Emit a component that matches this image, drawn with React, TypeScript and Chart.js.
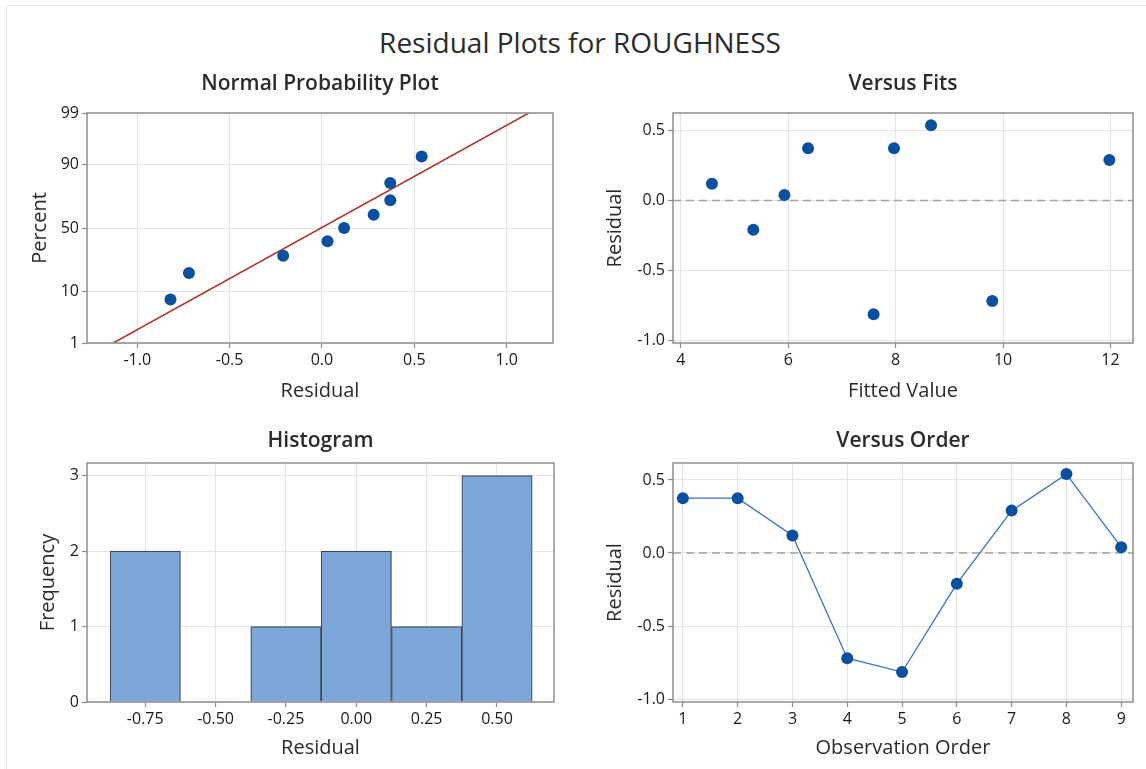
import React, { useEffect, useRef } from 'react';
import { Chart, registerables, LinearScale } from 'chart.js';

Chart.register(...registerables);

// ---------------- data ----------------
const OBS_ORDER = [1, 2, 3, 4, 5, 6, 7, 8, 9];
const RESIDUALS = [0.375, 0.375, 0.12, -0.72, -0.815, -0.21, 0.29, 0.54, 0.04];
const FITTED_VALUES = [6.37, 7.97, 4.58, 9.8, 7.59, 5.35, 11.98, 8.66, 5.93];

const NPP_RESIDUALS = [-0.82, -0.72, -0.21, 0.03, 0.12, 0.28, 0.37, 0.37, 0.54];
const NPP_PERCENTS = [7.4, 18.1, 28.7, 39.4, 50.0, 60.6, 71.3, 81.9, 92.6];
const FIT_LINE_RESIDUALS = [-1.13, 1.12];
const FIT_LINE_PERCENTS = [1, 99];

const HIST_BIN_CENTERS = [-0.75, -0.5, -0.25, 0, 0.25, 0.5];
const HIST_FREQUENCIES = [2, 0, 1, 2, 1, 3];

const NPP_X_TICKS = [-1, -0.5, 0, 0.5, 1];
const NPP_Y_TICKS = [1, 10, 50, 90, 99];
const FITS_X_TICKS = [4, 6, 8, 10, 12];
const RESID_Y_TICKS = [-1, -0.5, 0, 0.5];
const HIST_X_TICKS = [-0.75, -0.5, -0.25, 0, 0.25, 0.5];
const HIST_Y_TICKS = [0, 1, 2, 3];
const ORDER_X_TICKS = [1, 2, 3, 4, 5, 6, 7, 8, 9];
const REFERENCE_RESIDUAL = 0;

// ---------------- styles ----------------
const TEXT = '#2b2b2b';
const TICK_TEXT = '#1a1a1a';
const GRID = '#e4e4e4';
const FRAME = '#8e8e8e';
const POINT = '#0b4f9f';
const LINE = '#3874c5';
const FIT_RED = '#b3312d';
const BAR_FILL = '#7da7d9';
const BAR_EDGE = '#43474f';
const FONT = '"Open Sans", "Noto Sans", sans-serif';

Chart.defaults.font.family = FONT;

// inverse of the standard normal CDF (for the probability axis)
function probit(p: number): number {
  const a = [-3.969683028665376e1, 2.209460984245205e2, -2.759285104469687e2, 1.38357751867269e2, -3.066479806614716e1, 2.506628277459239];
  const b = [-5.447609879822406e1, 1.615858368580409e2, -1.556989798598866e2, 6.680131188771972e1, -1.328068155288572e1];
  const c = [-7.784894002430293e-3, -3.223964580411365e-1, -2.400758277161838, -2.549732539343734, 4.374664141464968, 2.938163982698783];
  const d = [7.784695709041462e-3, 3.224671290700398e-1, 2.445134137142996, 3.754408661907416];
  const pl = 0.02425;
  if (p < pl) {
    const q = Math.sqrt(-2 * Math.log(p));
    return (((((c[0] * q + c[1]) * q + c[2]) * q + c[3]) * q + c[4]) * q + c[5]) / ((((d[0] * q + d[1]) * q + d[2]) * q + d[3]) * q + 1);
  }
  if (p <= 1 - pl) {
    const q = p - 0.5;
    const r = q * q;
    return ((((((a[0] * r + a[1]) * r + a[2]) * r + a[3]) * r + a[4]) * r + a[5]) * q) / (((((b[0] * r + b[1]) * r + b[2]) * r + b[3]) * r + b[4]) * r + 1);
  }
  const q = Math.sqrt(-2 * Math.log(1 - p));
  return -(((((c[0] * q + c[1]) * q + c[2]) * q + c[3]) * q + c[4]) * q + c[5]) / ((((d[0] * q + d[1]) * q + d[2]) * q + d[3]) * q + 1);
}

class ProbabilityScale extends LinearScale {
  static id = 'probability';
  static defaults = {};
  getPixelForValue(value: number) {
    const z0 = probit(this.min / 100);
    const z1 = probit(this.max / 100);
    return this.getPixelForDecimal((probit(value / 100) - z0) / (z1 - z0));
  }
  getValueForPixel(pixel: number) {
    const dec = this.getDecimalForPixel(pixel);
    return this.min + dec * (this.max - this.min);
  }
}
Chart.register(ProbabilityScale as any);

// ---------------- plugins ----------------
const framePlugin = {
  id: 'frame',
  afterDraw(chart: any) {
    const { ctx, chartArea: a } = chart;
    ctx.save();
    ctx.strokeStyle = FRAME;
    ctx.lineWidth = 1.5;
    ctx.strokeRect(a.left, a.top, a.right - a.left, a.bottom - a.top);
    ctx.restore();
  },
};

const zeroLinePlugin = {
  id: 'zeroLine',
  beforeDatasetsDraw(chart: any, _args: any, opts: any) {
    if (!opts || !opts.display) return;
    const { ctx, chartArea: a } = chart;
    const y = chart.scales.y.getPixelForValue(opts.value);
    ctx.save();
    ctx.strokeStyle = '#a3a3a3';
    ctx.lineWidth = 1.5;
    ctx.setLineDash([8, 5]);
    ctx.beginPath();
    ctx.moveTo(a.left, y);
    ctx.lineTo(a.right, y);
    ctx.stroke();
    ctx.restore();
  },
};

// ---------------- helpers ----------------
type AxisArgs = {
  type?: string;
  pos: 'left' | 'bottom';
  min: number;
  max: number;
  ticks: number[];
  fmt: (v: number) => string;
  title: string;
  titlePad: any;
  size: number;
};

function axis({ type = 'linear', pos, min, max, ticks, fmt, title, titlePad, size }: AxisArgs) {
  return {
    type,
    position: pos,
    min,
    max,
    offset: false,
    afterBuildTicks: (s: any) => {
      s.ticks = ticks.map((v) => ({ value: v }));
    },
    afterFit: (s: any) => {
      if (pos === 'bottom') s.height = size;
      else s.width = size;
    },
    grid: { color: GRID, lineWidth: 1, offset: false, drawTicks: true, tickLength: 5, tickColor: FRAME, tickWidth: 1.2 },
    border: { display: false },
    ticks: {
      autoSkip: false,
      maxRotation: 0,
      padding: 3,
      color: TICK_TEXT,
      font: { size: 16, weight: '500' as any },
      callback: (v: any) => fmt(Number(v)),
    },
    title: { display: true, text: title, color: TEXT, font: { size: 20 }, padding: titlePad },
  };
}

function baseOptions(titleText: string, titlePad: any, padRight: number) {
  return {
    responsive: false,
    maintainAspectRatio: false,
    animation: false as const,
    layout: { padding: { left: 0, right: padRight, top: 0, bottom: 0 } },
    plugins: {
      legend: { display: false },
      tooltip: { enabled: false },
      title: {
        display: true,
        text: titleText,
        fullSize: false,
        color: TEXT,
        font: { size: 21, weight: '600' as any },
        padding: titlePad,
      },
      zeroLine: { display: false, value: REFERENCE_RESIDUAL },
    },
  };
}

const f1 = (v: number) => v.toFixed(1);
const f2 = (v: number) => v.toFixed(2);
const f0 = (v: number) => String(Math.round(v));

const TOP_TITLE_PAD = { top: 11.4, bottom: 16.4 };
const BOTTOM_TITLE_PAD = { top: 18.4, bottom: 9.4 };

// ---------------- chart configs ----------------
function nppConfig(): any {
  const opts: any = baseOptions('Normal Probability Plot', TOP_TITLE_PAD, 20);
  opts.scales = {
    x: axis({ pos: 'bottom', min: -1.272, max: 1.251, ticks: NPP_X_TICKS, fmt: f1, title: 'Residual', titlePad: { top: 0, bottom: 7 }, size: 67 }),
    y: axis({ type: 'probability', pos: 'left', min: 1, max: 99, ticks: NPP_Y_TICKS, fmt: f0, title: 'Percent', titlePad: { top: 28, bottom: 0 }, size: 87 }),
  };
  return {
    type: 'scatter',
    data: {
      datasets: [
        {
          data: FIT_LINE_RESIDUALS.map((x, i) => ({ x, y: FIT_LINE_PERCENTS[i] })),
          showLine: true,
          borderColor: FIT_RED,
          borderWidth: 1.5,
          pointRadius: 0,
          order: 2,
        },
        {
          data: NPP_RESIDUALS.map((x, i) => ({ x, y: NPP_PERCENTS[i] })),
          backgroundColor: POINT,
          borderWidth: 0,
          pointRadius: 6,
          order: 1,
        },
      ],
    },
    options: opts,
    plugins: [framePlugin, zeroLinePlugin],
  };
}

function fitsConfig(): any {
  const opts: any = baseOptions('Versus Fits', TOP_TITLE_PAD, 13);
  opts.plugins.zeroLine.display = true;
  opts.scales = {
    x: axis({ pos: 'bottom', min: 3.855, max: 12.42, ticks: FITS_X_TICKS, fmt: f0, title: 'Fitted Value', titlePad: { top: 0, bottom: 7 }, size: 67 }),
    y: axis({ pos: 'left', min: -1.021, max: 0.627, ticks: RESID_Y_TICKS, fmt: f1, title: 'Residual', titlePad: { top: 30, bottom: 0 }, size: 100 }),
  };
  return {
    type: 'scatter',
    data: {
      datasets: [
        {
          data: FITTED_VALUES.map((x, i) => ({ x, y: RESIDUALS[i] })),
          backgroundColor: POINT,
          borderWidth: 0,
          pointRadius: 6,
        },
      ],
    },
    options: opts,
    plugins: [framePlugin, zeroLinePlugin],
  };
}

function histConfig(): any {
  const opts: any = baseOptions('Histogram', BOTTOM_TITLE_PAD, 19);
  opts.scales = {
    x: axis({ pos: 'bottom', min: -0.957, max: 0.7026, ticks: HIST_X_TICKS, fmt: f2, title: 'Residual', titlePad: { top: 0, bottom: 8.5 }, size: 67 }),
    y: axis({ pos: 'left', min: 0, max: 3.167, ticks: HIST_Y_TICKS, fmt: f0, title: 'Frequency', titlePad: { top: 36, bottom: 0 }, size: 87 }),
  };
  return {
    type: 'bar',
    data: {
      datasets: [
        {
          data: HIST_BIN_CENTERS.map((x, i) => ({ x, y: HIST_FREQUENCIES[i] })),
          backgroundColor: BAR_FILL,
          borderColor: BAR_EDGE,
          borderWidth: 1.2,
          barPercentage: 1,
          categoryPercentage: 1,
        },
      ],
    },
    options: opts,
    plugins: [framePlugin, zeroLinePlugin],
  };
}

function orderConfig(): any {
  const opts: any = baseOptions('Versus Order', BOTTOM_TITLE_PAD, 13);
  opts.plugins.zeroLine.display = true;
  opts.scales = {
    x: axis({ pos: 'bottom', min: 0.82, max: 9.215, ticks: ORDER_X_TICKS, fmt: f0, title: 'Observation Order', titlePad: { top: 0, bottom: 8.5 }, size: 67 }),
    y: axis({ pos: 'left', min: -1.02, max: 0.616, ticks: RESID_Y_TICKS, fmt: f1, title: 'Residual', titlePad: { top: 30, bottom: 0 }, size: 100 }),
  };
  return {
    type: 'scatter',
    data: {
      datasets: [
        {
          data: OBS_ORDER.map((x, i) => ({ x, y: RESIDUALS[i] })),
          showLine: true,
          borderColor: LINE,
          borderWidth: 1.3,
          backgroundColor: POINT,
          pointBorderWidth: 0,
          pointRadius: 6,
        },
      ],
    },
    options: opts,
    plugins: [framePlugin, zeroLinePlugin],
  };
}

// ---------------- components ----------------
function Panel({ left, top, width, height, make }: { left: number; top: number; width: number; height: number; make: () => any }) {
  const ref = useRef<HTMLCanvasElement | null>(null);
  useEffect(() => {
    if (!ref.current) return;
    const chart = new Chart(ref.current, make());
    return () => chart.destroy();
  }, []);
  return <canvas ref={ref} width={width} height={height} style={{ position: 'absolute', left, top, width, height }} />;
}

export default function App() {
  return (
    <div
      style={{
        position: 'absolute',
        left: 0,
        top: 0,
        width: 1146,
        height: 769,
        background: '#ffffff',
        overflow: 'hidden',
        fontFamily: FONT,
      }}
    >
      <div
        style={{
          position: 'absolute',
          left: 6,
          top: 5,
          width: 1200,
          height: 800,
          borderTop: '1px solid #e6e6e6',
          borderLeft: '1px solid #e6e6e6',
        }}
      />
      <div
        style={{
          position: 'absolute',
          left: 0,
          top: 25,
          width: 1160,
          textAlign: 'center',
          fontSize: 28,
          lineHeight: '34px',
          color: TEXT,
          fontFamily: FONT,
        }}
      >
        Residual Plots for ROUGHNESS
      </div>
      <Panel left={0} top={60} width={573} height={350} make={nppConfig} />
      <Panel left={573} top={60} width={573} height={350} make={fitsConfig} />
      <Panel left={0} top={410} width={573} height={359} make={histConfig} />
      <Panel left={573} top={410} width={573} height={359} make={orderConfig} />
    </div>
  );
}
